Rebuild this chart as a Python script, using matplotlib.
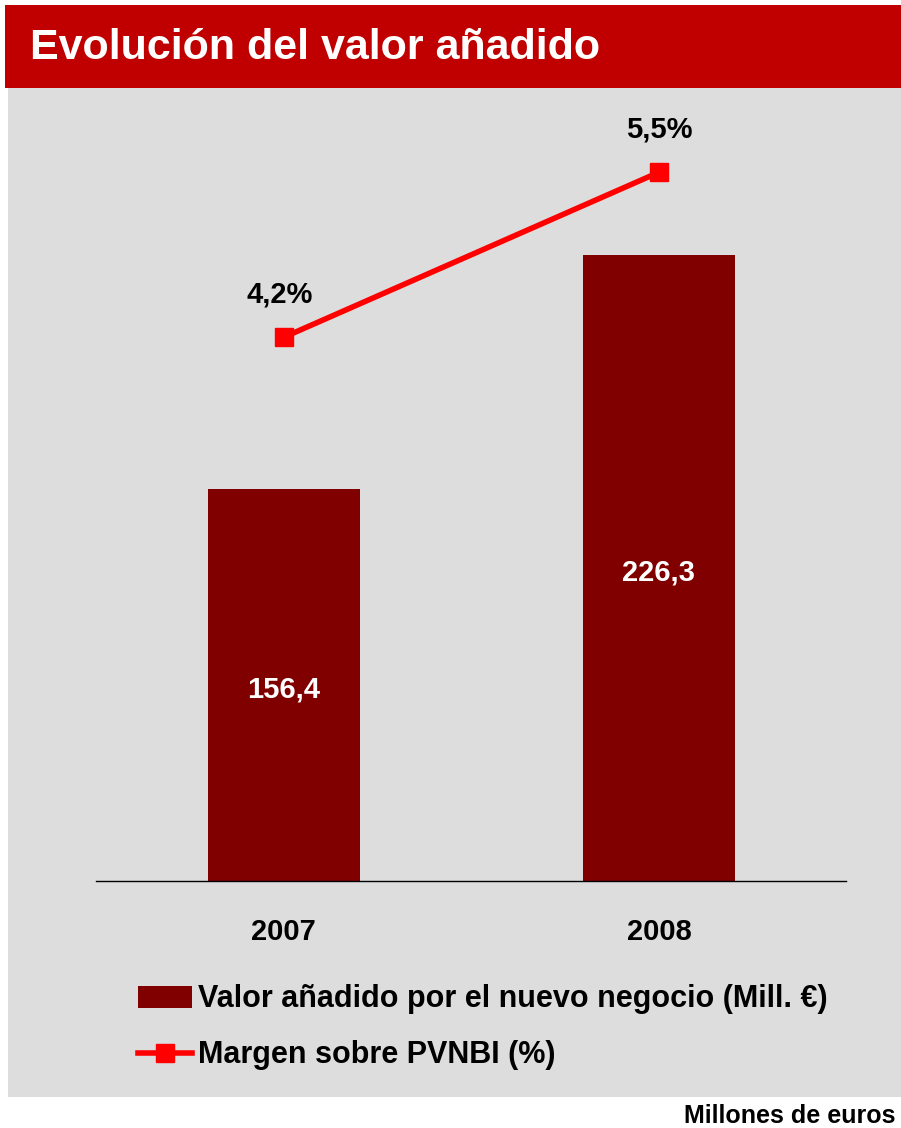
import matplotlib
matplotlib.use("Agg")
import matplotlib.pyplot as plt
from matplotlib.patches import Rectangle, Patch
from matplotlib.lines import Line2D

# data
years = ["2007", "2008"]
valor = [156.4, 226.3]
valor_labels = ["156,4", "226,3"]
margen = [4.2, 5.5]
margen_labels = ["4,2%", "5,5%"]

plt.rcParams["font.family"] = ["Liberation Sans", "DejaVu Sans"]
plt.rcParams["font.weight"] = "bold"

W, H = 901, 1128
fig = plt.figure(figsize=(W / 100, H / 100), dpi=100)
fig.patch.set_facecolor("white")

def fx(px):
    return px / W

def fy(py):
    return 1 - py / H

# background panels
fig.patches.append(Rectangle((fx(5), fy(88)), fx(896), 83 / H, transform=fig.transFigure,
                             facecolor="#C00000", edgecolor="none", zorder=-2))
fig.patches.append(Rectangle((fx(8), fy(1097)), fx(893), 1009 / H, transform=fig.transFigure,
                             facecolor="#DDDDDD", edgecolor="none", zorder=-2))
fig.text(fx(30), fy(48), "Evolución del valor añadido", color="white", fontsize=31,
         fontweight="bold", va="center", ha="left")
fig.text(fx(896), fy(1116), "Millones de euros", color="black", fontsize=18,
         fontweight="bold", va="center", ha="right")

ax = fig.add_axes([fx(96), fy(881), fx(846 - 96), (881 - 100) / H])
ax.set_zorder(1)
ax.patch.set_alpha(0)
x = [0, 1]
ax.bar(x, valor, width=0.405, color="#800000", zorder=2)
ax.set_xlim(-0.501, 1.499)
ax.set_ylim(39.3, 272.6)
for xi, v, lab in zip(x, valor, valor_labels):
    ax.annotate(lab, (xi, (39.3 + v) / 2), xytext=(0, -3), textcoords="offset points",
                color="white", fontsize=21, fontweight="bold", ha="center", va="center")

for s in ["top", "left", "right"]:
    ax.spines[s].set_visible(False)
ax.spines["bottom"].set_color("black")
ax.spines["bottom"].set_linewidth(1)
ax.set_yticks([])
ax.set_xticks(x)
ax.set_xticklabels(years, fontsize=21, fontweight="bold")
ax.tick_params(axis="x", length=0, pad=27)

ax2 = ax.twinx()
ax2.set_ylim(-0.087, 6.07)
ax2.plot(x, margen, color="#FF0000", lw=4, marker="s", markersize=13, zorder=3)
ax2.set_yticks([])
for s in ax2.spines.values():
    s.set_visible(False)
offs = [-0.01, 0]
for xi, m, lab, o in zip(x, margen, margen_labels, offs):
    ax2.annotate(lab, (xi + o, m), xytext=(0, 31), textcoords="offset points",
                 ha="center", va="center", fontsize=21, fontweight="bold")

handles = [Patch(facecolor="#800000", edgecolor="none"),
           Line2D([], [], color="#FF0000", lw=4, marker="s", markersize=13)]
fig.legend(handles, ["Valor añadido por el nuevo negocio (Mill. €)", "Margen sobre PVNBI (%)"],
           loc="upper left", bbox_to_anchor=(fx(110), fy(957)), frameon=False,
           handlelength=1.77, handleheight=0.75, handletextpad=0.2,
           labelspacing=0.85, prop={"weight": "bold", "size": 22})

fig.savefig("out.png", dpi=100, facecolor="white")
